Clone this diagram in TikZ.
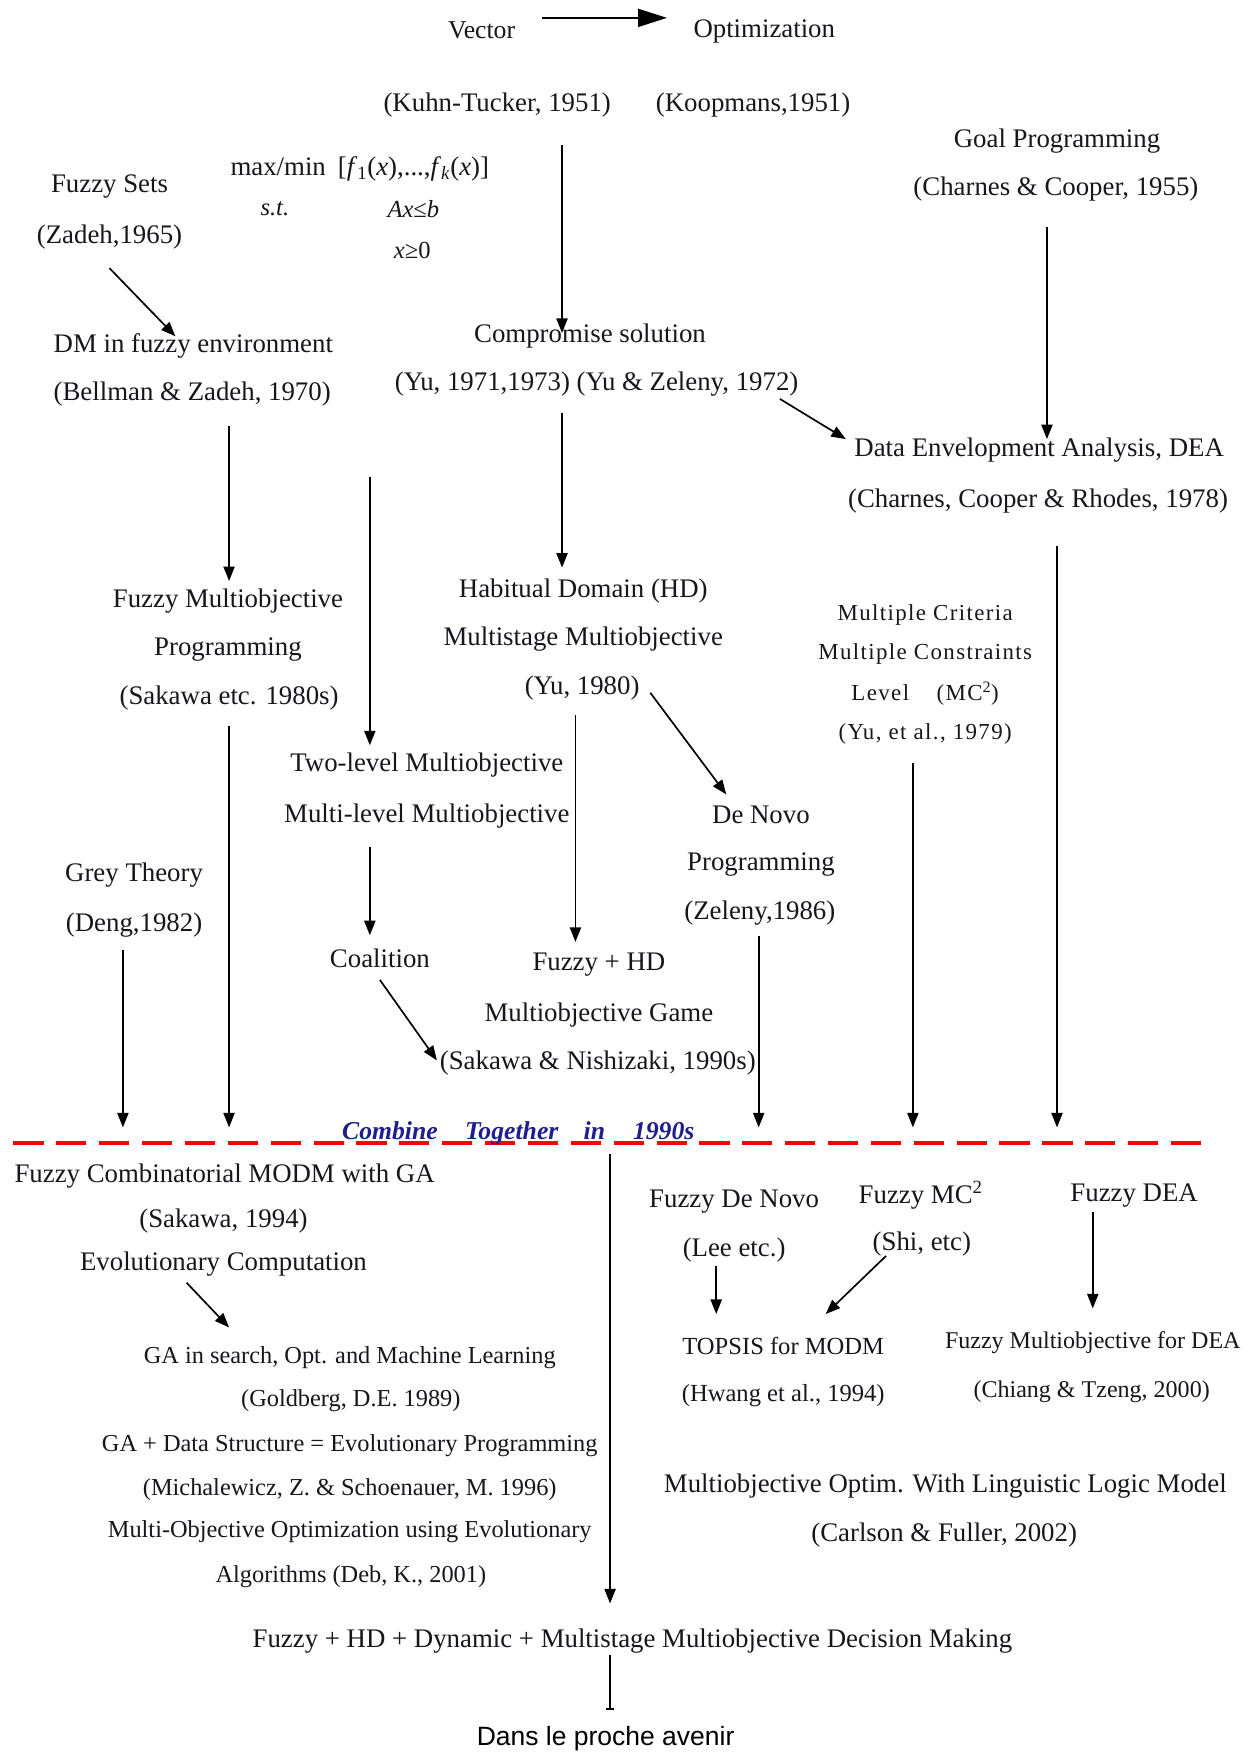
\documentclass[tikz,border=0pt]{standalone}
\usepackage{fontspec}
\setmainfont{Liberation Serif}
\newfontfamily\arialfont{Liberation Sans}
\newfontfamily\trackedserif[LetterSpace=6]{Liberation Serif}
\usetikzlibrary{arrows.meta,calc}
\definecolor{ink}{RGB}{22,22,30}
\definecolor{navyink}{RGB}{30,30,140}
\definecolor{dashred}{RGB}{255,0,0}
\tikzset{
  lbl/.style={inner sep=0pt, yshift=-2pt, text=ink, font=\fontsize{24}{28}\selectfont},
  sz/.style={font=\fontsize{#1}{#1}\selectfont},
  tracked/.style={font=\trackedserif\fontsize{20.5}{24}\selectfont},
  era/.style={inner sep=0pt, anchor=base, text=navyink,
              font=\fontsize{23}{26}\selectfont\bfseries\itshape},
  arr/.style={draw=black, line width=1.5pt, -{Triangle[length=13pt,width=10pt]}},
  bigarr/.style={draw=black, line width=2pt, -{Triangle[length=26pt,width=16pt]}},
  plain/.style={draw=black, line width=1.5pt},
  divider/.style={draw=dashred, line width=3.5pt, dash pattern=on 27pt off 11.37pt},
}
\begin{document}
\begin{tikzpicture}[x=1pt,y=-1pt]
\useasboundingbox[fill=white] (0,0) rectangle (1121,1568);

% ---- origins ----
\node[lbl,sz=23] (vec) at (431,25) {Vector};
\node[lbl] (opt) at (684,26) {Optimization};
\node[lbl] (kt) at (445,92) {(Kuhn-Tucker, 1951)};
\node[lbl] (koop) at (674,92) {(Koopmans,1951)};

% vector optimization problem
\node[lbl] (mm) at (322,149) {max/min\hspace{0.45em}[\textit{f}\textsubscript{1}(\textit{x}),...,\textit{f}\textsubscript{\textit{k}}(\textit{x})]};
\node[lbl,sz=22] (st) at (246,185) {\textit{s.t.}};
\node[lbl,sz=22] (axb) at (370,185) {\textit{Ax}≤\textit{b}};
\node[lbl,sz=22] (xpos) at (369,222) {\textit{x}≥0};

\node[lbl] (fs1) at (98,165) {Fuzzy Sets};
\node[lbl] (fs2) at (98,210) {(Zadeh,1965)};

\node[lbl] (gp1) at (946,124) {Goal Programming};
\node[lbl] (gp2) at (945,167) {(Charnes \& Cooper, 1955)};

\node[lbl] (dm1) at (173,308) {DM in fuzzy environment};
\node[lbl] (dm2) at (172,351) {(Bellman \& Zadeh, 1970)};

\node[lbl] (cs1) at (528,299) {Compromise solution};
\node[lbl] (cs2) at (534,342) {(Yu, 1971,1973) (Yu \& Zeleny, 1972)};

\node[lbl] (dea1) at (930,401) {Data Envelopment Analysis, DEA};
\node[lbl] (dea2) at (929,446) {(Charnes, Cooper \& Rhodes, 1978)};

% ---- 1970s / 1980s ----
\node[lbl] (fmo1) at (204,536) {Fuzzy Multiobjective};
\node[lbl] (fmo2) at (204,579) {Programming};
\node[lbl] (fmo3) at (205,623) {(Sakawa etc. 1980s)};

\node[lbl] (hd1) at (522,527) {Habitual Domain (HD)};
\node[lbl] (hd2) at (522,570) {Multistage Multiobjective};
\node[lbl] (hd3) at (521,614) {(Yu, 1980)};

\node[lbl,tracked] (mc1) at (828,548) {Multiple Criteria};
\node[lbl,tracked] (mc2) at (828,583) {Multiple Constraints};
\node[lbl,tracked] (mc3) at (828,619) {Level\hspace{1.2em}(MC\textsuperscript{2})};
\node[lbl,tracked] (mc4) at (828,655) {(Yu, et al., 1979)};

\node[lbl] (tl1) at (382,683) {Two-level Multiobjective};
\node[lbl] (tl2) at (382,728) {Multi-level Multiobjective};

\node[lbl] (dn1) at (681,727) {De Novo};
\node[lbl] (dn2) at (681,772) {Programming};
\node[lbl] (dn3) at (680,815) {(Zeleny,1986)};

\node[lbl] (gt1) at (120,781) {Grey Theory};
\node[lbl] (gt2) at (120,826) {(Deng,1982)};

\node[lbl] (coal) at (340,856) {Coalition};
\node[lbl] (fg1) at (536,861) {Fuzzy + HD};
\node[lbl] (fg2) at (536,906) {Multiobjective Game};
\node[lbl] (fg3) at (535,949) {(Sakawa \& Nishizaki, 1990s)};

% ---- the 1990s divider ----
\coordinate (dashW) at (12,1023);
\coordinate (dashE) at (1075,1023);
\coordinate (rowEnd) at (0,1009);
\draw[divider] (dashW) -- (dashE);
\node[era] (w1) at (349,1020) {Combine};
\node[era] (w2) at (458,1020) {Together};
\node[era] (w3) at (532,1020) {in};
\node[era] (w4) at (594,1020) {1990s};

% ---- after 1990 ----
\node[lbl] (fc1) at (201,1051) {Fuzzy Combinatorial MODM with GA};
\node[lbl] (fc2) at (200,1091) {(Sakawa, 1994)};
\node[lbl] (ec) at (200,1129) {Evolutionary Computation};

\node[lbl,sz=21.8] (ga1) at (313,1213) {GA in search, Opt. and Machine Learning};
\node[lbl,sz=21.8] (ga2) at (314,1252) {(Goldberg, D.E. 1989)};
\node[lbl,sz=21.8] (ga3) at (313,1292) {GA + Data Structure = Evolutionary Programming};
\node[lbl,sz=21.8] (ga4) at (313,1331) {(Michalewicz, Z. \& Schoenauer, M. 1996)};
\node[lbl,sz=21.8] (ga5) at (313,1369) {Multi-Objective Optimization using Evolutionary};
\node[lbl,sz=21.8] (ga6) at (314,1409) {Algorithms (Deb, K., 2001)};

\node[lbl] (fdn1) at (657,1073) {Fuzzy De Novo};
\node[lbl] (fdn2) at (657,1117) {(Lee etc.)};
\node[lbl] (fmc1) at (824,1068) {Fuzzy MC\textsuperscript{2}};
\node[lbl] (fmc2) at (825,1111) {(Shi, etc)};
\node[lbl] (fdea) at (1015,1068) {Fuzzy DEA};

\node[lbl,sz=22] (top1) at (701,1203) {TOPSIS for MODM};
\node[lbl,sz=22] (top2) at (701,1247) {(Hwang et al., 1994)};
\node[lbl,sz=21.5] (fmd1) at (978,1200) {Fuzzy Multiobjective for DEA};
\node[lbl,sz=21.5] (fmd2) at (977,1244) {(Chiang \& Tzeng, 2000)};

\node[lbl] (ml1) at (846,1328) {Multiobjective Optim. With Linguistic Logic Model};
\node[lbl] (ml2) at (845,1372) {(Carlson \& Fuller, 2002)};

\node[lbl] (fin) at (566,1467) {Fuzzy + HD + Dynamic + Multistage Multiobjective Decision Making};
\node[inner sep=0pt, text=black, font=\arialfont\fontsize{23.7}{26}\selectfont] (dans) at (542,1556) {Dans le proche avenir};

% ---- connectors ----
\draw[bigarr] ($(vec)+(54,-11)$) -- ($(opt)+(-87,-12)$);
\draw[arr] ($(kt)+(58,36)$) -- ($(cs1)+(-25,-3)$);
\draw[arr] ($(fs2)+(0,28)$) -- ($(dm1)+(-16,-9)$);
\draw[arr] ($(gp2)+(-8,34)$) -- ($(dea1)+(7,-10)$);
\draw[arr] ($(cs2)+(164,13)$) -- ($(dea1)+(-173,-10)$);
\draw[arr] ($(dm2)+(33,28)$) -- ($(fmo1)+(1,-18)$);
\draw[arr] ($(cs2)+(-31,26)$) -- ($(hd1)+(-19,-21)$);
\coordinate (tlfeed) at (331,427);
\draw[arr] (tlfeed) -- ($(tl1)+(-51,-18)$);
\draw[arr] ($(hd3)+(61,4)$) -- ($(dn1)+(-31,-18)$);
\draw[arr] ($(hd3)+(-6,24)$) -- ($(fg1)+(-21,-20)$);
\draw[arr] ($(tl2)+(-51,28)$) -- ($(coal)+(-9,-21)$);
\draw[arr] ($(coal)+(0,19)$) -- ($(fg3)+(-144,-2)$);

% into the 1990s
\draw[arr] ($(gt2)+(-10,22)$) coordinate (s1) -- (s1 |- rowEnd);
\draw[arr] ($(fmo3)+(0,25)$) coordinate (s2) -- (s2 |- rowEnd);
\draw[arr] ($(dn3)+(-1,21)$) coordinate (s3) -- (s3 |- rowEnd);
\draw[arr] ($(mc4)+(-11,26)$) coordinate (s4) -- (s4 |- rowEnd);
\draw[arr] ($(dea2)+(17,41)$) coordinate (s5) -- (s5 |- rowEnd);

% below the divider
\draw[arr] ($(ec)+(-33,17)$) -- ($(ga1)+(-108,-27)$);
\coordinate (trunk) at (546,1033);
\draw[arr] (trunk) -- ($(fin)+(-20,-34)$);
\draw[arr] ($(fdn2)+(-16,14)$) -- ($(top1)+(-60,-29)$);
\draw[arr] ($(fmc2)+(-32,11)$) -- ($(top1)+(38,-29)$);
\draw[arr] ($(fdea)+(-37,15)$) -- ($(fmd1)+(0,-31)$);
\draw[plain, -{Bar[width=7pt,line width=1pt]}] ($(fin)+(-20,12)$) -- ($(dans)+(4,-26)$);
\end{tikzpicture}
\end{document}
